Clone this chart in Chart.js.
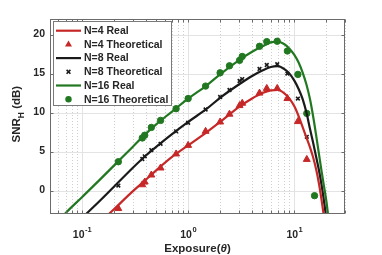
<!DOCTYPE html>
<html>
<head>
<meta charset="utf-8">
<script src="https://cdn.jsdelivr.net/npm/chart.js@4.4.1/dist/chart.umd.min.js"></script>
<style>
  html, body { margin: 0; padding: 0; background: #fff; }
</style>
</head>
<body>
<canvas id="myChart" width="382" height="255"></canvas>
<script>
const fontFamily = '"Liberation Sans", Arial, Helvetica, sans-serif';

const realExposure = [0.06, 0.07, 0.1, 0.15, 0.2, 0.3, 0.4, 0.5, 0.7, 1, 1.5, 2, 3, 4, 5, 6, 7, 8, 9, 10, 11, 12, 13, 14, 15, 16, 17, 18, 19, 20, 21];
const realN4  = [null, null, null, -4.0, -2.4, -0.1, 1.4, 2.6, 4.3, 5.8, 7.5, 8.8, 10.7, 11.8, 12.5, 12.85, 12.9, 12.5, 11.8, 10.8, 9.5, 8.1, 6.8, 5.6, 4.3, 2.8, 1.0, -1.1, -3.3, null, null];
const realN8  = [null, null, -3.5, -1.2, 0.5, 2.9, 4.5, 5.6, 7.2, 8.8, 10.5, 11.9, 13.6, 14.7, 15.4, 15.85, 15.95, 15.6, 15.0, 14.1, 13.0, 11.7, 10.0, 8.0, 6.2, 4.4, 2.7, 0.8, -1.3, -3.6, null];
const realN16 = [-4.0, -2.9, -0.85, 1.5, 3.2, 5.6, 7.3, 8.5, 10.1, 11.8, 13.5, 14.9, 16.7, 17.8, 18.5, 19.0, 19.1, 18.8, 18.2, 17.4, 16.4, 15.1, 13.6, 11.8, 9.6, 7.2, 4.8, 2.6, 0.6, -1.3, -3.6];

// theoretical points (markers)
const theoExposure = [0.22, 0.37, 0.39, 0.45, 0.55, 0.77, 1.0, 1.46, 2.0, 2.45, 3.05, 3.23, 4.7, 5.5, 6.9, 8.6, 10.8, 13.1, 15.5];
const theoN4  = [-2.3, 0.75, 1.1, 2.0, 2.9, 4.7, 5.8, 7.6, 8.8, 9.8, 10.9, 11.2, 12.5, 13.1, 13.1, 11.8, 8.85, 4.0, null];
const theoN8  = [0.65, 4.05, 4.4, 5.2, 6.0, 7.6, 8.7, 10.4, 12.0, 12.9, 14.05, 14.3, 15.6, 16.1, 16.2, 15.0, 11.8, 6.9, null];
const theoN16 = [3.7, 6.75, 7.1, 8.1, 9.0, 10.5, 11.8, 13.4, 15.1, 16.0, 16.7, 17.2, 18.5, 19.1, 19.15, 17.9, 14.9, 9.9, -0.65];

const seriesLabels = ['N=4 Real', 'N=4 Theoretical', 'N=8 Real', 'N=8 Theoretical', 'N=16 Real', 'N=16 Theoretical'];
const seriesColors = ['#c62828', '#c62828', '#1a1a1a', '#1a1a1a', '#217821', '#217821'];
const markerStyles = [null, 'triangle', null, 'crossRot', null, 'circle'];

// axis ticks
const yTicks = [0, 5, 10, 15, 20];
const xTicks = [0.1, 1, 10];
const xTickExponents = ['-1', '0', '1'];
const xMinorTicks = [0.06, 0.07, 0.08, 0.09, 0.2, 0.3, 0.4, 0.5, 0.6, 0.7, 0.8, 0.9, 2, 3, 4, 5, 6, 7, 8, 9, 20, 30];

const xTitle = 'Exposure(';
const xTitleSymbol = '\u03B8';
const yTitleMain = 'SNR';
const yTitleSub = 'H';
const yTitleUnit = ' (dB)';

function toPoints(xs, ys) {
    return xs.map((x, i) => ({ x: x, y: ys[i] }));
}

const datasets = [
    [realExposure, realN4], [theoExposure, theoN4],
    [realExposure, realN8], [theoExposure, theoN8],
    [realExposure, realN16], [theoExposure, theoN16]
].map(([xs, ys], i) => {
    const color = seriesColors[i];
    if (!markerStyles[i]) {
        return {
            label: seriesLabels[i],
            data: toPoints(xs, ys),
            showLine: true,
            borderColor: color,
            backgroundColor: color,
            borderWidth: 2.2,
            pointRadius: 0,
            cubicInterpolationMode: 'monotone',
            fill: false
        };
    }
    return {
        label: seriesLabels[i],
        data: toPoints(xs, ys),
        showLine: false,
        pointStyle: markerStyles[i],
        pointRadius: markerStyles[i] === 'triangle' ? 4 : (markerStyles[i] === 'circle' ? 3.2 : 2.6),
        pointBorderWidth: markerStyles[i] === 'crossRot' ? 1.6 : 1,
        pointBackgroundColor: color,
        pointBorderColor: color
    };
});

// draws a legend marker by hand
function drawMarker(ctx, style, x, y, color) {
    ctx.save();
    ctx.fillStyle = color;
    ctx.strokeStyle = color;
    ctx.beginPath();
    if (style === 'triangle') {
        ctx.moveTo(x, y - 4);
        ctx.lineTo(x + 3.5, y + 2.2);
        ctx.lineTo(x - 3.5, y + 2.2);
        ctx.closePath();
        ctx.fill();
    } else if (style === 'circle') {
        ctx.arc(x, y, 3.2, 0, Math.PI * 2);
        ctx.fill();
    } else {
        ctx.lineWidth = 1.6;
        ctx.moveTo(x - 1.9, y - 1.9); ctx.lineTo(x + 1.9, y + 1.9);
        ctx.moveTo(x + 1.9, y - 1.9); ctx.lineTo(x - 1.9, y + 1.9);
        ctx.stroke();
    }
    ctx.restore();
}

const decorPlugin = {
    id: 'decor',
    beforeDatasetsDraw(chart) {
        const { ctx, chartArea: a, scales: { x, y } } = chart;
        ctx.save();
        ctx.lineWidth = 1;
        // minor dotted grid
        ctx.strokeStyle = '#cfcfcf';
        ctx.setLineDash([1, 2]);
        xMinorTicks.forEach(v => {
            const px = Math.round(x.getPixelForValue(v)) + 0.5;
            ctx.beginPath(); ctx.moveTo(px, a.top); ctx.lineTo(px, a.bottom); ctx.stroke();
        });
        ctx.setLineDash([]);
        // major grid
        ctx.strokeStyle = '#e3e3e3';
        xTicks.forEach(v => {
            const px = Math.round(x.getPixelForValue(v)) + 0.5;
            ctx.beginPath(); ctx.moveTo(px, a.top); ctx.lineTo(px, a.bottom); ctx.stroke();
        });
        yTicks.forEach(v => {
            const py = Math.round(y.getPixelForValue(v)) + 0.5;
            ctx.beginPath(); ctx.moveTo(a.left, py); ctx.lineTo(a.right, py); ctx.stroke();
        });
        ctx.restore();
    },
    afterDraw(chart) {
        const { ctx, chartArea: a, scales: { x, y } } = chart;
        ctx.save();

        // axes box with inward ticks
        ctx.strokeStyle = '#6b6b6b';
        ctx.lineWidth = 1;
        const L = Math.round(a.left) + 0.5, R = Math.round(a.right) - 0.5;
        const T = Math.round(a.top) + 0.5, B = Math.round(a.bottom) - 0.5;
        ctx.strokeRect(L, T, R - L, B - T);
        ctx.beginPath();
        xTicks.concat(xMinorTicks).forEach(v => {
            const px = Math.round(x.getPixelForValue(v)) + 0.5;
            ctx.moveTo(px, B); ctx.lineTo(px, B - 3);
            ctx.moveTo(px, T); ctx.lineTo(px, T + 3);
        });
        yTicks.forEach(v => {
            const py = Math.round(y.getPixelForValue(v)) + 0.5;
            ctx.moveTo(L, py); ctx.lineTo(L + 3, py);
            ctx.moveTo(R, py); ctx.lineTo(R - 3, py);
        });
        ctx.stroke();

        // x tick labels 10^n
        ctx.fillStyle = '#262626';
        ctx.textBaseline = 'alphabetic';
        ctx.textAlign = 'left';
        const baseFont = 'bold 10.5px ' + fontFamily;
        const supFont = 'bold 7.5px ' + fontFamily;
        xTicks.forEach((v, i) => {
            const px = x.getPixelForValue(v);
            ctx.font = baseFont;
            const w1 = ctx.measureText('10').width;
            ctx.font = supFont;
            const w2 = ctx.measureText(xTickExponents[i]).width;
            const x0 = px - (w1 + w2) / 2;
            ctx.font = baseFont;
            ctx.fillText('10', x0, a.bottom + 23.5);
            ctx.font = supFont;
            ctx.fillText(xTickExponents[i], x0 + w1 + 0.5, a.bottom + 17.5);
        });

        // x title
        const titleFont = 'bold 11.5px ' + fontFamily;
        const symFont = 'italic bold 11.5px ' + fontFamily;
        ctx.font = titleFont;
        const tw1 = ctx.measureText(xTitle).width;
        const tw3 = ctx.measureText(')').width;
        ctx.font = symFont;
        const tw2 = ctx.measureText(xTitleSymbol).width;
        let tx = (a.left + a.right) / 2 - (tw1 + tw2 + tw3) / 2;
        const ty = a.bottom + 38;
        ctx.font = titleFont;
        ctx.fillText(xTitle, tx, ty);
        ctx.font = symFont;
        ctx.fillText(xTitleSymbol, tx + tw1, ty);
        ctx.font = titleFont;
        ctx.fillText(')', tx + tw1 + tw2, ty);

        // y title, rotated, with subscript
        const subFont = 'bold 8.5px ' + fontFamily;
        ctx.font = titleFont;
        const yw1 = ctx.measureText(yTitleMain).width;
        const yw3 = ctx.measureText(yTitleUnit).width;
        ctx.font = subFont;
        const yw2 = ctx.measureText(yTitleSub).width;
        ctx.translate(20, y.getPixelForValue(9.8));
        ctx.rotate(-Math.PI / 2);
        let sx = -(yw1 + yw2 + yw3) / 2;
        ctx.font = titleFont;
        ctx.fillText(yTitleMain, sx, 0);
        ctx.font = subFont;
        ctx.fillText(yTitleSub, sx + yw1, 3.5);
        ctx.font = titleFont;
        ctx.fillText(yTitleUnit, sx + yw1 + yw2, 0);
        ctx.setTransform(1, 0, 0, 1, 0, 0);

        // legend box
        const lx = 53.5, ly = 21.5, lw = 118, lh = 84;
        ctx.fillStyle = '#ffffff';
        ctx.fillRect(lx, ly, lw, lh);
        ctx.strokeStyle = '#7a7a7a';
        ctx.strokeRect(lx, ly, lw, lh);
        ctx.font = 'bold 10.5px ' + fontFamily;
        ctx.textBaseline = 'middle';
        chart.data.datasets.forEach((ds, i) => {
            const rowY = 30.7 + i * 13.7;
            const color = seriesColors[i];
            if (ds.showLine) {
                ctx.strokeStyle = color;
                ctx.lineWidth = 2.2;
                ctx.beginPath(); ctx.moveTo(56, rowY); ctx.lineTo(81, rowY); ctx.stroke();
            } else {
                drawMarker(ctx, markerStyles[i], 68.5, rowY, color);
            }
            ctx.fillStyle = '#262626';
            ctx.fillText(ds.label, 84, rowY + 0.5);
        });
        ctx.restore();
    }
};

const ctx = document.getElementById('myChart');

const myChart = new Chart(ctx, {
    type: 'scatter',
    data: { datasets: datasets },
    options: {
        responsive: false,
        animation: false,
        events: [],
        layout: {
            padding: { left: 0, right: 37, top: 19, bottom: 0 }
        },
        scales: {
            x: {
                type: 'logarithmic',
                min: 0.05,
                max: 30,
                afterBuildTicks: scale => { scale.ticks = xTicks.map(v => ({ value: v })); },
                afterFit: scale => { scale.height = 41; },
                ticks: { display: false },
                grid: { display: false },
                border: { display: false }
            },
            y: {
                type: 'linear',
                min: -3,
                max: 22,
                afterBuildTicks: scale => { scale.ticks = yTicks.map(v => ({ value: v })); },
                afterFit: scale => { scale.width = 50; },
                ticks: {
                    padding: 5,
                    color: '#262626',
                    font: { family: fontFamily, weight: 'bold', size: 10.5 }
                },
                grid: { display: false, drawTicks: false },
                border: { display: false }
            }
        },
        plugins: {
            legend: { display: false },
            tooltip: { enabled: false }
        }
    },
    plugins: [decorPlugin]
});
</script>
</body>
</html>
